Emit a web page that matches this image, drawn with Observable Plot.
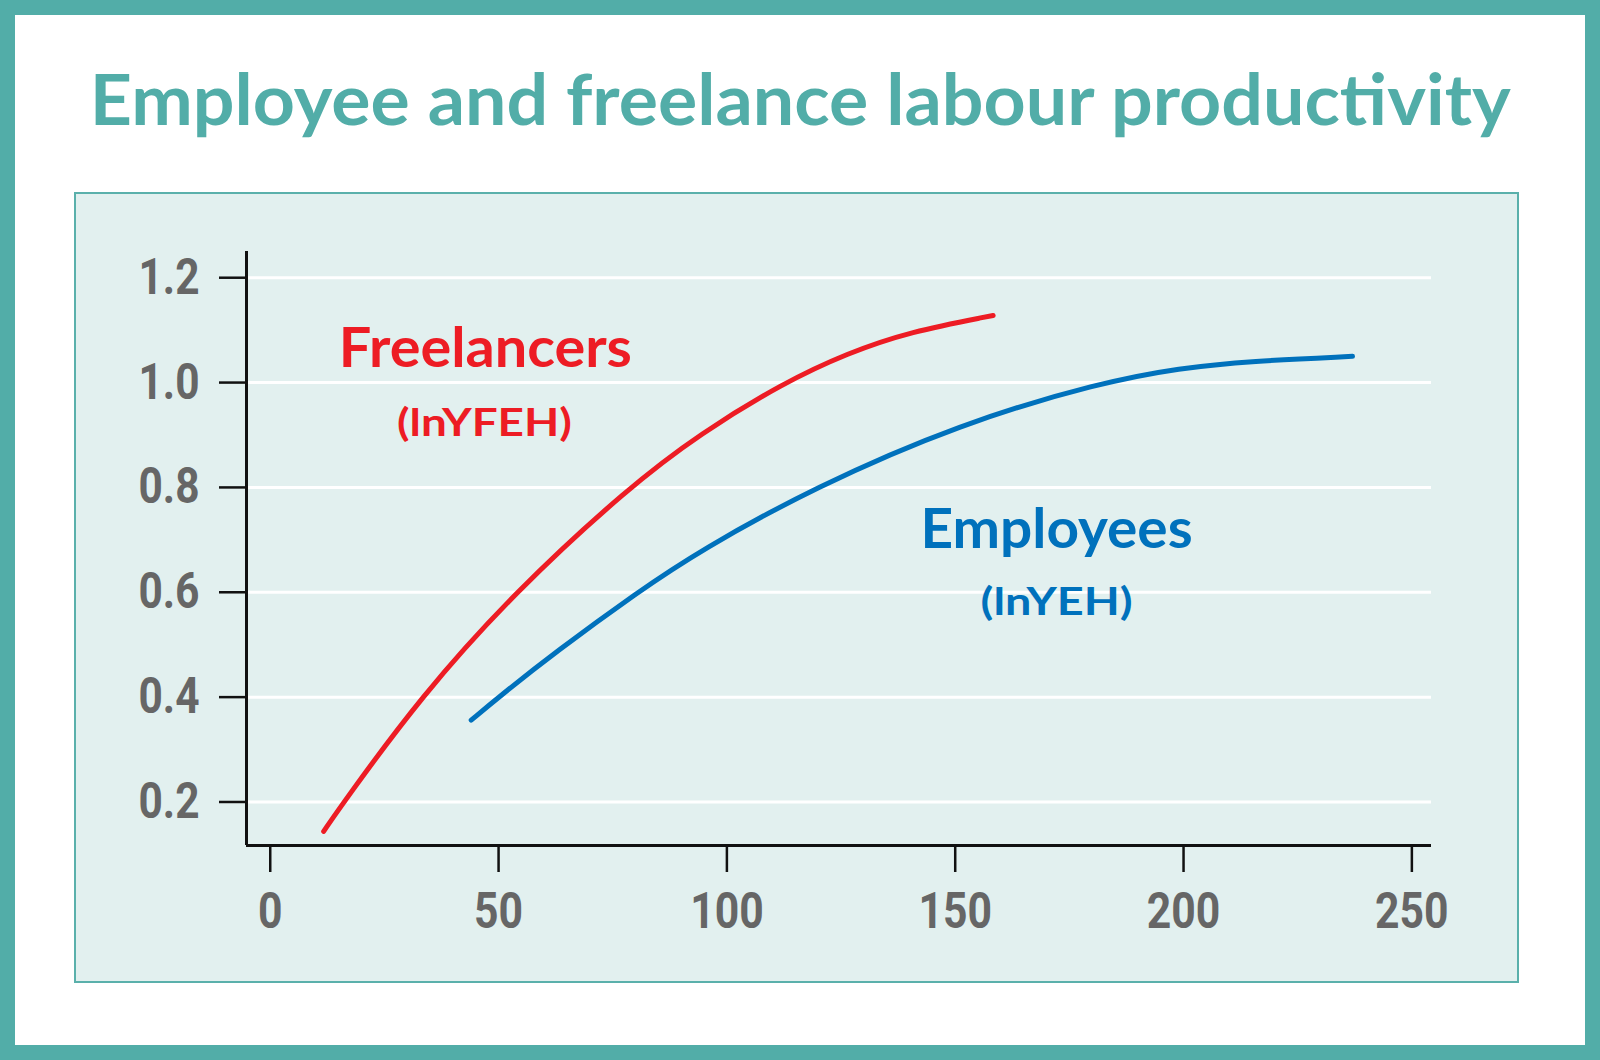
<!DOCTYPE html>
<html>
<head>
<meta charset="utf-8">
<script src="https://cdn.jsdelivr.net/npm/d3@7"></script>
<script src="https://cdn.jsdelivr.net/npm/@observablehq/plot@0.6"></script>
<style>
  html, body { margin: 0; padding: 0; background: #ffffff; }
  #frame { position: relative; width: 1600px; height: 1060px; box-sizing: border-box;
           border: 15px solid #52ADA8; background: #ffffff; overflow: hidden; }
  #title { position: absolute; left: 0; top: 47px; width: 1570px; text-align: center;
           font-family: Lato, "Open Sans", sans-serif; font-weight: 700; font-size: 71px;
           line-height: 71px; color: #52ADA8; white-space: nowrap; }
  #title span { display: inline-block; transform-origin: 50% 50%; }
  #panel { position: absolute; left: 59px; top: 177px; width: 1445px; height: 791px;
           box-sizing: border-box; border: 2px solid #5AB0AB; background: #E2F0EF; }
  #chart { position: absolute; left: 59px; top: 177px; }
  #chart svg { background: transparent; overflow: visible; }
</style>
</head>
<body>
<div id="frame">
  <div id="title"><span id="titleText">Employee and freelance labour productivity</span></div>
  <div id="panel"></div>
  <div id="chart"></div>
</div>
<script>
// ---- Data ----
const freelancersX = [11.7, 16.1, 32.9, 53.5, 78.5, 94.2, 112.5, 126.4, 140.0, 158.3];
const freelancersY = [0.144, 0.200, 0.400, 0.600, 0.800, 0.903, 1.000, 1.056, 1.097, 1.128];

const employeesX = [44.0, 50.0, 62.5, 80.4, 94.2, 119.1, 151.2, 181.8, 199.3, 214.7, 237.0];
const employeesY = [0.356, 0.400, 0.486, 0.600, 0.680, 0.800, 0.922, 1.000, 1.028, 1.041, 1.050];

const xTicks = [0, 50, 100, 150, 200, 250];
const yTicks = [0.2, 0.4, 0.6, 0.8, 1.0, 1.2];
const xDomain = [-5.2, 254.3];
const yDomain = [0.117, 1.25];

// series labels, anchored in data units (x centre, y baseline)
const freelancerLabels = ["Freelancers", "(lnYFEH)"];
const freelancerLabelX = [47.1, 46.9];
const freelancerLabelY = [1.030, 0.899];
const employeeLabels = ["Employees", "(lnYEH)"];
const employeeLabelX = [172.2, 172.2];
const employeeLabelY = [0.684, 0.556];

// ---- Build tables ----
const freelancers = freelancersX.map((x, i) => ({x, y: freelancersY[i]}));
const employees = employeesX.map((x, i) => ({x, y: employeesY[i]}));
const fLab = freelancerLabels.map((t, i) => ({t, x: freelancerLabelX[i], y: freelancerLabelY[i]}));
const eLab = employeeLabels.map((t, i) => ({t, x: employeeLabelX[i], y: employeeLabelY[i]}));

const RED = "#ED1C24", BLUE = "#0071BC", GRAY = "#666666", INK = "#111111";
const labelFont = "Lato, 'Open Sans', sans-serif";
const tickFont = "Roboto, 'DejaVu Sans', sans-serif";

const chart = Plot.plot({
  width: 1445,
  height: 791,
  marginLeft: 172,
  marginRight: 88,
  marginTop: 59,
  marginBottom: 138,
  style: {background: "transparent", overflow: "visible"},
  x: {domain: xDomain, label: null},
  y: {domain: yDomain, label: null},
  marks: [
    Plot.gridY(yTicks, {stroke: "#ffffff", strokeOpacity: 1, strokeWidth: 3}),
    Plot.ruleX([xDomain[0]], {stroke: INK, strokeWidth: 3}),
    Plot.ruleY([yDomain[0]], {stroke: INK, strokeWidth: 3}),
    Plot.axisY(yTicks, {
      anchor: "left", tickSize: 27, tickPadding: 20, tickFormat: d3.format(".1f"),
      stroke: INK, strokeWidth: 2.5, fill: GRAY,
      fontSize: 50, fontWeight: 700, fontFamily: tickFont, label: null
    }),
    Plot.axisX(xTicks, {
      anchor: "bottom", tickSize: 27, tickPadding: 20, tickFormat: d3.format("d"),
      stroke: INK, strokeWidth: 2.5, fill: GRAY,
      fontSize: 50, fontWeight: 700, fontFamily: tickFont, label: null
    }),
    Plot.line(freelancers, {x: "x", y: "y", stroke: RED, strokeWidth: 5, curve: "basis",
      strokeLinecap: "round", strokeLinejoin: "round"}),
    Plot.line(employees, {x: "x", y: "y", stroke: BLUE, strokeWidth: 5, curve: "basis",
      strokeLinecap: "round", strokeLinejoin: "round"}),
    Plot.text(fLab.slice(0, 1), {x: "x", y: "y", text: "t", fill: RED, fontSize: 56, fontWeight: 700,
      fontFamily: labelFont, textAnchor: "middle", lineAnchor: "bottom"}),
    Plot.text(fLab.slice(1), {x: "x", y: "y", text: "t", fill: RED, fontSize: 38, fontWeight: 700,
      fontFamily: labelFont, textAnchor: "middle", lineAnchor: "bottom"}),
    Plot.text(eLab.slice(0, 1), {x: "x", y: "y", text: "t", fill: BLUE, fontSize: 56, fontWeight: 700,
      fontFamily: labelFont, textAnchor: "middle", lineAnchor: "bottom"}),
    Plot.text(eLab.slice(1), {x: "x", y: "y", text: "t", fill: BLUE, fontSize: 38, fontWeight: 700,
      fontFamily: labelFont, textAnchor: "middle", lineAnchor: "bottom"})
  ]
});

document.getElementById("chart").append(chart);

// ---- Typographic fitting (condensed digits, label widths, title width) ----
const tickStrings = new Set([...xTicks.map(d3.format("d")), ...yTicks.map(d3.format(".1f"))]);
const labelWidths = {"Freelancers": 293, "(lnYFEH)": 175, "Employees": 272, "(lnYEH)": 152};
function tickWidth(s) {
  let w = 0;
  for (const c of s) w += (c === ".") ? 12 : 24.5;
  return w;
}
function fit() {
  d3.select(chart).selectAll("text").each(function() {
    const s = this.textContent;
    if (tickStrings.has(s)) {
      this.setAttribute("textLength", tickWidth(s));
      this.setAttribute("lengthAdjust", "spacingAndGlyphs");
    } else if (labelWidths[s]) {
      this.setAttribute("textLength", labelWidths[s]);
      this.setAttribute("lengthAdjust", "spacingAndGlyphs");
    }
  });
  const t = document.getElementById("titleText");
  t.style.transform = "none";
  const w = t.getBoundingClientRect().width;
  t.style.transform = `scaleX(${(1421 / w).toFixed(4)})`;
}
fit();
if (document.fonts && document.fonts.ready) document.fonts.ready.then(fit);
</script>
</body>
</html>
